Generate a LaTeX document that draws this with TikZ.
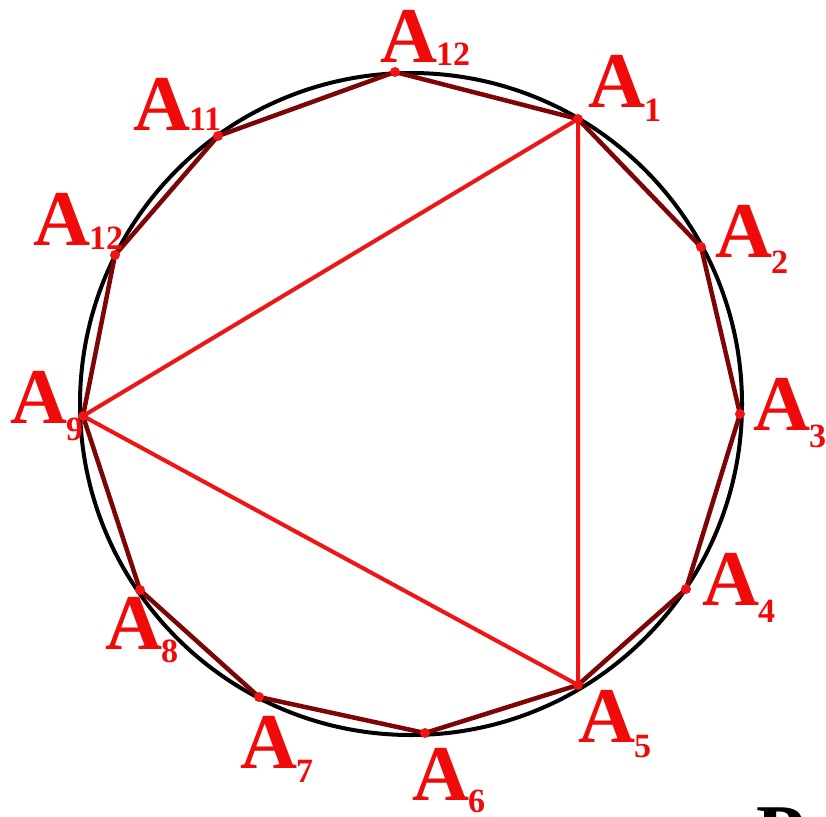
\documentclass[tikz,border=0pt]{standalone}
\usepackage{fontspec}
\setmainfont{Liberation Serif}
\tikzset{
  polyline/.style={draw={rgb,255:red,125;green,5;blue,5}, line width=4.5pt, line join=round},
  circline/.style={draw=black, line width=4pt},
  triline/.style={draw={rgb,255:red,240;green,20;blue,20}, line width=4pt, line join=round},
  vdot/.style={fill={rgb,255:red,240;green,20;blue,20}},
  vlabel/.style={anchor=base west, inner sep=0pt, outer sep=0pt, text={rgb,255:red,240;green,10;blue,10}, font=\bfseries}
}
\newcommand{\Alab}[2]{{\fontsize{79}{79}\selectfont A}\kern-1pt\raisebox{#2}{\fontsize{34}{34}\selectfont #1}}
\begin{document}
\begin{tikzpicture}[x=1pt,y=-1pt]
\clip (0,0) rectangle (826,816);
\fill[white] (0,0) rectangle (826,816);
% vertices
\coordinate (v12t) at (395,72);
\coordinate (v1) at (578,119);
\coordinate (v2) at (701,247);
\coordinate (v3) at (740,414);
\coordinate (v4) at (686,589);
\coordinate (v5) at (578,685);
\coordinate (v6) at (425,733);
\coordinate (v7) at (259,697);
\coordinate (v8) at (140,590);
\coordinate (v9) at (83,416);
\coordinate (v12l) at (115,255);
\coordinate (v11) at (218,136);
\coordinate (c) at (411,404);
% circle
\draw[circline] (c) circle[radius=331];
% polygon
\draw[polyline] (v12t) -- (v1) -- (v2) -- (v3) -- (v4) -- (v5) -- (v6) -- (v7) -- (v8) -- (v9) -- (v12l) -- (v11) -- cycle;
% triangle
\draw[triline] (v1) -- (v5) -- (v9) -- cycle;
% dots
\foreach \v in {v12t,v1,v2,v3,v4,v5,v6,v7,v8,v9,v12l,v11}
  \fill[vdot] (\v) circle[radius=5];
% labels
\node[vlabel] (l12t) at (380,63) {\Alab{12}{-2pt}};
\node[vlabel] (l1) at (588,107) {\Alab{1}{-14pt}};
\node[vlabel] (l2) at (715,257) {\Alab{2}{-16pt}};
\node[vlabel] (l3) at (753,430) {\Alab{3}{-17pt}};
\node[vlabel] (l4) at (702,605) {\Alab{4}{-17pt}};
\node[vlabel] (l5) at (578,742) {\Alab{5}{-15pt}};
\node[vlabel] (l6) at (412,800) {\Alab{6}{-12pt}};
\node[vlabel] (l7) at (240,768) {\Alab{7}{-14pt}};
\node[vlabel] (l8) at (105,649) {\Alab{8}{-13pt}};
\node[vlabel] (l9) at (10,423) {\Alab{9}{-17pt}};
\node[vlabel] (l12l) at (33,245) {\Alab{12}{-4pt}};
\node[vlabel] (l11) at (133,130) {\Alab{11}{0pt}};
% partial letter at bottom right
\node[anchor=north west, inner sep=0pt, font=\bfseries\fontsize{79}{79}\selectfont] (pp) at (756,807) {\vphantom{}\raisebox{0pt}[52pt][0pt]{P}};
\end{tikzpicture}
\end{document}
